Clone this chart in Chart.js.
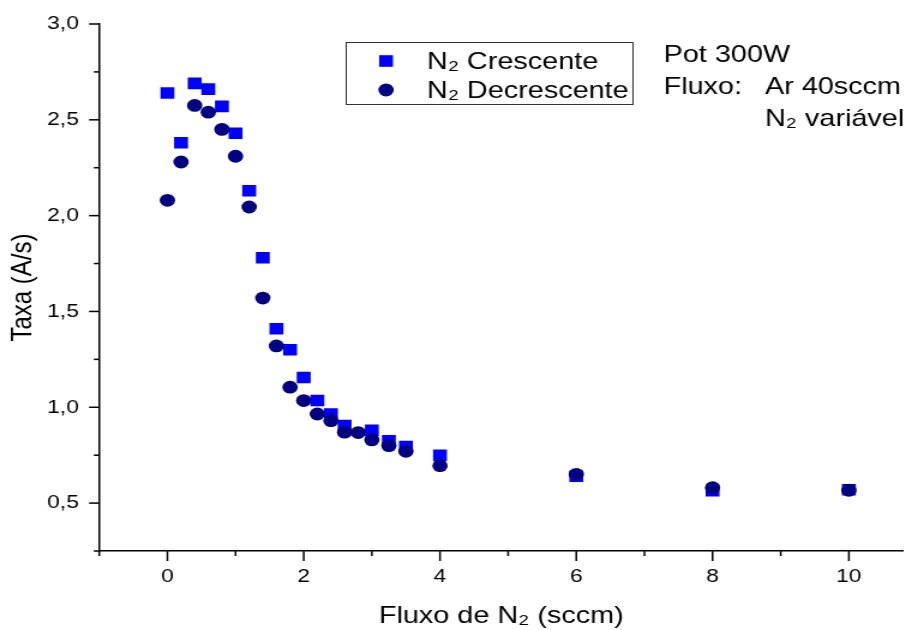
<!DOCTYPE html>
<html><head><meta charset="utf-8">
<script src="https://cdn.jsdelivr.net/npm/chart.js@4"></script>
<style>
html,body{margin:0;padding:0;background:#fff;overflow:hidden;}
#wrap{width:913px;height:630px;overflow:hidden;background:#fff;}
#c{display:block;width:761px;height:630px;transform:scaleX(1.2);transform-origin:0 0;}
</style></head><body>
<div id="wrap"><canvas id="c" width="761" height="630"></canvas></div>
<script>
// ---- data ----
const xCrescente = [0, 0.2, 0.4, 0.6, 0.8, 1.0, 1.2, 1.4, 1.6, 1.8, 2.0, 2.2, 2.4, 2.6, 3.0, 3.25, 3.5, 4, 6, 8, 10];
const yCrescente = [2.64, 2.38, 2.69, 2.66, 2.57, 2.43, 2.13, 1.78, 1.41, 1.30, 1.155, 1.035, 0.965, 0.905, 0.88, 0.825, 0.795, 0.75, 0.64, 0.565, 0.57];
const xDecrescente = [0, 0.2, 0.4, 0.6, 0.8, 1.0, 1.2, 1.4, 1.6, 1.8, 2.0, 2.2, 2.4, 2.6, 2.8, 3.0, 3.25, 3.5, 4, 6, 8, 10];
const yDecrescente = [2.08, 2.28, 2.575, 2.54, 2.45, 2.31, 2.045, 1.57, 1.32, 1.105, 1.035, 0.965, 0.93, 0.87, 0.868, 0.83, 0.80, 0.77, 0.695, 0.65, 0.58, 0.567];
const xTickValues = [0, 2, 4, 6, 8, 10];
const xTickLabels = ['0', '2', '4', '6', '8', '10'];
const yTickValues = [0.5, 1.0, 1.5, 2.0, 2.5, 3.0];
const yTickLabels = ['0,5', '1,0', '1,5', '2,0', '2,5', '3,0'];
const seriesNames = ['N\u2082 Crescente', 'N\u2082 Decrescente'];
const noteLines = ['Pot 300W', 'Fluxo:', 'Ar 40sccm', 'N\u2082 vari\u00e1vel'];
const xTitle = 'Fluxo de N\u2082 (sccm)';
const yTitle = 'Taxa (A/s)';

const FONT = "'Liberation Sans', Arial, sans-serif";
const BLUE = '#0000FF', NAVY = '#000080';

function findIdx(arr, v) { return arr.findIndex(a => Math.abs(a - v) < 1e-6); }

const decor = {
  id: 'decor',
  afterDraw(chart) {
    const ctx = chart.ctx, ca = chart.chartArea;
    const xs = chart.scales.x, ys = chart.scales.y;
    ctx.save();
    ctx.strokeStyle = '#000';
    ctx.lineWidth = 1.5;
    xs.ticks.forEach(t => {
      const px = xs.getPixelForValue(t.value);
      const major = findIdx(xTickValues, t.value) >= 0;
      ctx.beginPath(); ctx.moveTo(px, ca.bottom); ctx.lineTo(px, ca.bottom + (major ? 10 : 5)); ctx.stroke();
    });
    ys.ticks.forEach(t => {
      const py = ys.getPixelForValue(t.value);
      const major = findIdx(yTickValues, t.value) >= 0;
      ctx.beginPath(); ctx.moveTo(ca.left, py); ctx.lineTo(ca.left - (major ? 8.5 : 4.5), py); ctx.stroke();
    });
    // legend box
    ctx.lineWidth = 1;
    ctx.strokeStyle = '#333';
    ctx.strokeRect(288.5, 42.5, 239, 62);
    ctx.font = '24px ' + FONT;
    ctx.textBaseline = 'middle';
    ctx.textAlign = 'left';
    ctx.fillStyle = BLUE;
    ctx.fillRect(321.7 - 5.8, 61 - 5.8, 11.6, 11.6);
    ctx.fillStyle = NAVY;
    ctx.beginPath(); ctx.arc(321.7, 90, 6.4, 0, Math.PI * 2); ctx.fill();
    ctx.fillStyle = '#000';
    ctx.fillText(seriesNames[0], 355.8, 62);
    ctx.fillText(seriesNames[1], 355.8, 91);
    // annotation
    ctx.fillText(noteLines[0], 553, 55);
    ctx.fillText(noteLines[1], 553, 87);
    ctx.fillText(noteLines[2], 637.5, 87);
    ctx.fillText(noteLines[3], 637.5, 119);
    ctx.restore();
  }
};

new Chart(document.getElementById('c'), {
  type: 'scatter',
  data: {
    datasets: [
      {
        label: seriesNames[1],
        data: xDecrescente.map((x, i) => ({ x: x, y: yDecrescente[i] })),
        pointStyle: 'circle', pointRadius: 6.4, pointBorderWidth: 0,
        backgroundColor: NAVY, borderColor: NAVY, order: 1
      },
      {
        label: seriesNames[0],
        data: xCrescente.map((x, i) => ({ x: x, y: yCrescente[i] })),
        pointStyle: 'rect', pointRadius: 8.2, pointBorderWidth: 0,
        backgroundColor: BLUE, borderColor: BLUE, order: 2
      }
    ]
  },
  options: {
    responsive: false,
    devicePixelRatio: 1,
    animation: false,
    events: [],
    layout: { padding: { top: 24, right: 0, left: 0, bottom: 0 } },
    plugins: { legend: { display: false }, tooltip: { enabled: false }, title: { display: false } },
    scales: {
      x: {
        type: 'linear', min: -1, max: 10.8,
        afterFit(s) { s.height = 79; },
        border: { display: true, color: '#000', width: 1.5 },
        grid: { display: true, drawOnChartArea: false, drawTicks: true, tickLength: 10, tickColor: 'rgba(0,0,0,0)' },
        ticks: {
          stepSize: 1, includeBounds: false, autoSkip: false, maxRotation: 0, padding: 4,
          color: '#000', font: { family: FONT, size: 19 },
          callback: v => { const i = findIdx(xTickValues, v); return i >= 0 ? xTickLabels[i] : ''; }
        },
        title: { display: true, text: xTitle, color: '#000', font: { family: FONT, size: 24, lineHeight: 1 }, padding: { top: 0, bottom: 2 } }
      },
      y: {
        type: 'linear', min: 0.25, max: 3.0,
        afterFit(s) { s.width = 82.7; },
        border: { display: true, color: '#000', width: 1.5 },
        grid: { display: true, drawOnChartArea: false, drawTicks: true, tickLength: 9, tickColor: 'rgba(0,0,0,0)' },
        ticks: {
          stepSize: 0.25, includeBounds: false, autoSkip: false, padding: 8,
          color: '#000', font: { family: FONT, size: 19 },
          callback: v => { const i = findIdx(yTickValues, v); return i >= 0 ? yTickLabels[i] : ''; }
        },
        title: { display: true, text: yTitle, color: '#000', font: { family: FONT, size: 24, lineHeight: 1 }, padding: { top: 7, bottom: 0 } }
      }
    }
  },
  plugins: [decor]
});
</script>
</body></html>
